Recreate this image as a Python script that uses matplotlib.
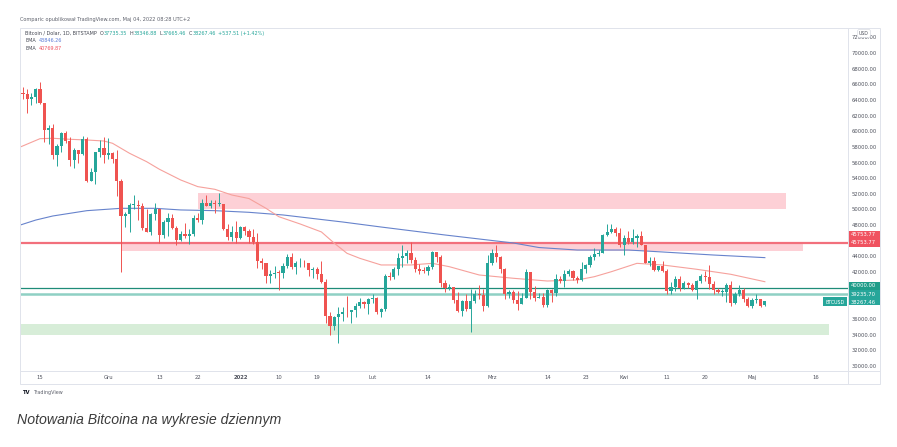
import numpy as np
import pandas as pd
import matplotlib
matplotlib.use("Agg")
import matplotlib.pyplot as plt
import matplotlib.dates as mdates
from matplotlib.patches import Rectangle
from matplotlib.transforms import blended_transform_factory

# BTC/USD daily candles (Bitstamp), 2021-11-10 .. 2022-05-04
first_day = "2021-11-10"
opens = [
    66950, 64900, 64800, 64150, 64350, 65450, 63600, 60100, 60350, 56900, 58100,
    59750, 58700, 56300, 57550, 57150, 58950, 53700, 54750, 57300, 57800,
    57000, 57200, 56500, 53600, 49200, 49400, 50550, 50600, 50500, 47600, 47150,
    49400, 50100, 46700, 48400, 48900, 47650, 46150, 46850, 46650, 46900, 48950,
    48600, 50800, 50400, 50800, 50700, 50700, 47550, 46450, 47100,
    46300, 47700, 47300, 46450, 45850, 43450, 43100, 41550, 41700, 41900, 41850,
    42750, 43950, 42600, 43100, 43150, 43100, 42250, 42400, 41700, 40700, 36450,
    35050, 36300, 36650, 36950, 36850, 37150, 37700, 38150, 37900,
    38500, 38700, 36900, 37300, 41550, 41400, 42400, 43850, 44100, 44400, 43550,
    42400, 42200, 42100, 42600, 44600, 43900, 40550, 40000, 40100, 38400, 37050,
    38250, 37300, 38350, 39200, 39100, 37700,
    43200, 44400, 43950, 42450, 39150, 39400, 38400, 37950, 38750, 41950, 39400,
    38750, 38800, 37800, 39650, 39300, 41100, 40900, 41750, 42200, 41250, 41050,
    42350, 42900, 43950, 44300, 44500, 46800, 47100, 47450, 47050,
    45500, 46300, 45800, 46400, 46600, 45500, 43200, 43450, 42300, 42750, 42150,
    39550, 40100, 41150, 39950, 40550, 40400, 39700, 40800, 41500, 41350, 40500,
    39700, 39450, 39450, 40400, 38100, 39250, 39750, 38600,
    37650, 38450, 38500, 37735.35,
]
highs = [
    69000, 65600, 65450, 64900, 65500, 66300, 63600, 60800, 60950, 58350, 59850,
    60000, 59300, 57850, 57600, 59400, 59200, 55300, 57400, 58850, 59200,
    59100, 57400, 57600, 53900, 49700, 50800, 51900, 51200, 50800, 50000, 49500,
    50800, 50250, 48700, 49500, 49450, 47900, 47300, 48300, 47500, 49300, 49550,
    51350, 51800, 51150, 51250, 52050, 50700, 48100, 47900, 48500,
    47900, 47950, 47550, 47500, 47050, 43750, 43150, 42300, 42800, 42250, 43100,
    44300, 44450, 43450, 43800, 43500, 43200, 42650, 42600, 43450, 41100, 36850,
    36450, 37550, 37500, 38950, 37200, 38000, 38700, 38350, 38750,
    39250, 38850, 37400, 41750, 41950, 42600, 44450, 45400, 44800, 45800, 43950,
    43000, 42700, 42900, 44750, 44600, 44200, 40950, 40500, 40150, 39450, 38450,
    39250, 39800, 39700, 40300, 39850, 44200,
    44950, 45450, 44100, 42500, 39650, 39650, 39550, 39350, 42400, 42000, 40250,
    39350, 39300, 39900, 39850, 41700, 41450, 42300, 42350, 42250, 41500, 43350,
    43000, 44200, 45100, 44800, 46900, 48200, 48100, 47700, 47600,
    46700, 47200, 47450, 46900, 47200, 45500, 43900, 43950, 42800, 43400, 42400,
    40700, 41550, 41500, 40850, 40700, 40600, 41000, 41750, 42200, 42950, 40800,
    39950, 39850, 40600, 40800, 39450, 40350, 39950, 38800,
    38650, 39150, 38600, 38346.88,
]
lows = [
    62800, 64100, 62300, 63400, 63600, 63500, 58600, 58400, 56500, 55600, 57400,
    58500, 55600, 55300, 55900, 57000, 53550, 53650, 53300, 56750, 56000,
    56500, 55900, 51700, 42000, 47800, 47100, 50100, 48600, 47350, 47100, 46800,
    48700, 45700, 46300, 46600, 47550, 45500, 45950, 46400, 45600, 46650, 48450,
    48100, 50500, 50200, 49500, 50450, 47350, 46150, 46000, 45700,
    46250, 46700, 45700, 45550, 42500, 42450, 40650, 40550, 41250, 39650, 41300,
    42500, 42350, 41750, 42650, 42650, 41550, 41300, 41100, 40600, 35500, 34000,
    34650, 33000, 35700, 36250, 35500, 36200, 37350, 37350, 36650,
    38050, 36600, 36250, 37000, 40950, 41100, 41650, 42700, 43150, 43200, 42000,
    41800, 41900, 41600, 42450, 43350, 40100, 39500, 39700, 38050, 36850, 36400,
    37050, 34350, 38000, 38600, 37050, 37500,
    42850, 43350, 41850, 38600, 38650, 38100, 37150, 37900, 38650, 38550, 38250,
    38650, 37600, 37600, 38150, 38900, 40550, 40150, 41500, 40950, 40550, 40900,
    41850, 42600, 43600, 44050, 44400, 46650, 46950, 46600, 45200,
    44200, 45650, 45550, 45150, 45400, 43150, 42750, 42150, 42150, 42000, 39250,
    39250, 39550, 39600, 39800, 40000, 39550, 38550, 40600, 40850, 39800, 39200,
    39300, 38950, 38200, 37700, 37900, 38900, 38200, 37600,
    37400, 38050, 37500, 37665.46,
]
closes = [
    64900, 64800, 64150, 64350, 65450, 63600, 60100, 60350, 56900, 58100, 59750,
    58700, 56300, 57550, 57150, 58950, 53700, 54750, 57300, 57800, 57000,
    57200, 56500, 53600, 49200, 49400, 50550, 50600, 50500, 47600, 47150, 49400,
    50100, 46700, 48400, 48900, 47650, 46150, 46850, 46650, 46900, 48950, 48600,
    50800, 50400, 50800, 50700, 50700, 47550, 46450, 47100, 46300,
    47700, 47300, 46450, 45850, 43450, 43100, 41550, 41700, 41900, 41850, 42750,
    43950, 42600, 43100, 43150, 43100, 42250, 42400, 41700, 40700, 36450, 35050,
    36300, 36650, 36950, 36850, 37150, 37700, 38150, 37900, 38500,
    38700, 36900, 37300, 41550, 41400, 42400, 43850, 44100, 44400, 43550, 42400,
    42200, 42100, 42600, 44600, 43900, 40550, 40000, 40100, 38400, 37050, 38250,
    37300, 38350, 39200, 39100, 37700, 43200,
    44400, 43950, 42450, 39150, 39400, 38400, 37950, 38750, 41950, 39400, 38750,
    38800, 37800, 39650, 39300, 41100, 40900, 41750, 42200, 41250, 41050, 42350,
    42900, 43950, 44300, 44500, 46800, 47100, 47450, 47050, 45500,
    46300, 45800, 46400, 46600, 45500, 43200, 43450, 42300, 42750, 42150, 39550,
    40100, 41150, 39950, 40550, 40400, 39700, 40800, 41500, 41350, 40500, 39700,
    39450, 39450, 40400, 38100, 39250, 39750, 38600, 37650,
    38450, 38500, 37730, 38267.46,
]

# EMA lines
ema_slow_dates = ["2021-11-10", "2021-11-14", "2021-11-18", "2021-11-26", "2021-12-04",
                  "2021-12-12", "2021-12-18", "2021-12-26", "2022-01-03", "2022-01-11",
                  "2022-01-20", "2022-01-25", "2022-02-03", "2022-02-18", "2022-03-06",
                  "2022-03-12", "2022-03-21", "2022-04-02", "2022-04-10", "2022-04-22",
                  "2022-05-04"]
ema_slow = [47950, 48650, 49170, 49850, 50150, 50150, 49940, 49850, 49640, 49300,
            48720, 48400, 47760, 46740, 45720, 45140, 44820, 44820, 44570, 44180,
            43846.26]
ema_fast_dates = ["2021-11-10", "2021-11-15", "2021-11-18", "2021-11-22", "2021-11-26",
                  "2021-11-30", "2021-12-02", "2021-12-06", "2021-12-10", "2021-12-13",
                  "2021-12-18", "2021-12-22", "2021-12-26", "2021-12-30", "2022-01-03",
                  "2022-01-07", "2022-01-10", "2022-01-15", "2022-01-20", "2022-01-23",
                  "2022-01-26", "2022-01-29", "2022-02-03", "2022-02-10", "2022-02-15",
                  "2022-02-19", "2022-02-26", "2022-03-06", "2022-03-14", "2022-03-21",
                  "2022-03-25", "2022-03-29", "2022-04-04", "2022-04-10", "2022-04-18",
                  "2022-04-26", "2022-05-04"]
ema_fast = [57900, 59050, 59100, 58970, 58880, 58750, 58460, 57180, 56110, 55140,
            53770, 52920, 52580, 51850, 51400, 50150, 49080, 48150, 47130, 45700,
            44400, 43760, 42910, 42910, 43120, 42690, 41630, 41210, 40860, 40990,
            41410, 42050, 43120, 42910, 42360, 41720, 40769.87]

# drawn zones
zone_start = ["2021-12-22", "2021-12-04", "2021-11-01"]
zone_end = ["2022-05-09", "2022-05-13", "2022-05-19"]
zone_low = [50000, 44670, 34000]
zone_high = [52130, 45820, 35400]
zone_color = ["#fdd0d6", "#fdd0d6", "#d7edd8"]

resistance = 45753.77
round_level = 40000.00
support = 39235.70
last_price = 38267.46

price_ticks = list(range(30000, 72001, 2000))
time_tick_dates = ["2021-11-15", "2021-12-01", "2021-12-13", "2021-12-22", "2022-01-01",
                   "2022-01-10", "2022-01-19", "2022-02-01", "2022-02-14", "2022-03-01",
                   "2022-03-14", "2022-03-23", "2022-04-01", "2022-04-11", "2022-04-20",
                   "2022-05-01", "2022-05-16"]
time_tick_labels = ["15", "Gru", "13", "22", "2022", "10", "19", "Lut", "14", "Mrz",
                    "14", "23", "Kwi", "11", "20", "Maj", "16"]

UP = "#26a69a"
DOWN = "#ef5350"
TXT = "#50535e"
BORDER = "#e0e3eb"

W, H = 897, 447
fig = plt.figure(figsize=(W / 100, H / 100), dpi=100)
fig.patch.set_facecolor("white")


def fx(px):
    return px / W


def fy(py):
    return 1 - py / H


ax = fig.add_axes([fx(21), fy(371), fx(848) - fx(21), fy(27) - fy(371)])
for s in ax.spines.values():
    s.set_visible(False)

ymin, ymax = 29360, 73320
upp = (ymax - ymin) / (371 - 27)  # usd per pixel
x0 = mdates.date2num(pd.Timestamp("2021-11-15"))

# zones
for s, e, lo, hi, col in zip(zone_start, zone_end, zone_low, zone_high, zone_color):
    xs = mdates.date2num(pd.Timestamp(s))
    xe = mdates.date2num(pd.Timestamp(e))
    ax.add_patch(Rectangle((xs, lo), xe - xs, hi - lo, fc=col, ec="none", zorder=1))

# horizontal levels
ax.axhline(resistance, color="#f2707c", lw=1.6, zorder=2)
ax.axhline(round_level, color="#1e8c78", lw=0.9, zorder=2)
ax.axhline(support, color="#8fd0c4", lw=1.8, zorder=2)

# ema lines
ax.plot(mdates.date2num(pd.to_datetime(ema_slow_dates)), ema_slow, color="#6783cc", lw=0.8, zorder=2.5)
ax.plot(mdates.date2num(pd.to_datetime(ema_fast_dates)), ema_fast, color="#f6a19c", lw=0.8, zorder=2.5)

# candles
dates = pd.date_range(first_day, periods=len(closes), freq="D")
x = mdates.date2num(dates)
o = np.array(opens, float)
h = np.array(highs, float)
l = np.array(lows, float)
c = np.array(closes, float)
cols = np.where(c >= o, UP, DOWN)
ax.vlines(x, l, h, colors=cols, lw=0.7, zorder=3)
ax.bar(x, np.maximum(np.abs(c - o), 110), bottom=np.minimum(o, c), width=0.74,
       color=cols, lw=0, zorder=4)

ax.set_xlim(x0 - 4.46, x0 + 189.5)
ax.set_ylim(ymin, ymax)

# axes ticks (labels under the price tags are hidden, like on the scale)
tag_prices = [resistance, round_level, support, last_price]
ax.yaxis.tick_right()
ax.set_yticks(price_ticks)
ax.set_yticklabels(["" if min(abs(v - p) for p in tag_prices) < 1000 else "%.2f" % v
                    for v in price_ticks])
ax.tick_params(axis="y", length=0, pad=2.9, labelsize=3.8, labelcolor=TXT)
ax.set_xticks(mdates.date2num(pd.to_datetime(time_tick_dates)))
ax.set_xticklabels(time_tick_labels)
ax.tick_params(axis="x", length=0, pad=2.8, labelsize=3.8, labelcolor=TXT)
for t in ax.get_xticklabels():
    if t.get_text() == "2022":
        t.set_fontweight("bold")

# price tags on the scale
tr = blended_transform_factory(fig.transFigure, ax.transData)


def tag(price, text, fc, shift=0.0, top=4.2, bot=4.2, xa=848, xb=880, size=3.8):
    yc = price + shift * upp
    ax.add_patch(Rectangle((fx(xa), price - bot * upp), fx(xb) - fx(xa), (top + bot) * upp,
                           transform=tr, fc=fc, ec="none", clip_on=False, zorder=10))
    ax.text(fx(xa + 3), yc, text, transform=tr, fontsize=size, color="white",
            va="center", ha="left", clip_on=False, zorder=11)


tag(resistance, "%.2f" % resistance, "#f0525f", shift=0, top=11.3, bot=4.7)
ax.text(fx(851), resistance + 8.5 * upp, "%.2f" % resistance, transform=tr, fontsize=3.8,
        color="white", va="center", ha="left", clip_on=False, zorder=11)
tag(round_level, "%.2f" % round_level, "#1f9d89", shift=2, top=5.6, bot=1.9)
tag(support, "%.2f" % support, "#26a69a", shift=-0.4, top=4.1, bot=3.9)
tag(last_price, "%.2f" % last_price, "#26a69a", shift=-0.8, top=3.7, bot=3.8)
tag(last_price, "BTCUSD", "#26a69a", shift=-0.8, top=4.2, bot=4.8, xa=822.7, xb=846.7, size=3.4)

# frame of the tradingview widget
fig.add_artist(Rectangle((fx(20), fy(384)), fx(880) - fx(20), fy(28) - fy(384),
                         transform=fig.transFigure, fill=False, ec=BORDER, lw=0.7))
fig.add_artist(plt.Line2D([fx(848), fx(848)], [fy(28), fy(384)], color=BORDER, lw=0.7))
fig.add_artist(plt.Line2D([fx(20), fx(880)], [fy(371), fy(371)], color=BORDER, lw=0.7))
fig.text(fx(864), fy(33.5), "USD", fontsize=3.3, color=TXT, ha="center", va="center",
         bbox=dict(boxstyle="round,pad=0.3", fc="white", ec="#d1d4dc", lw=0.4))

# header + legend
fig.text(fx(20), fy(20), "Comparic opublikował TradingView.com, Maj 04, 2022 08:28 UTC+2",
         fontsize=3.6, color="#5d606b", ha="left", va="center")

renderer = fig.canvas.get_renderer()


def pieces(px, py, parts, size=3.55):
    for s, col, gap in parts:
        t = fig.text(fx(px), fy(py), s, color=col, fontsize=size, ha="left", va="center")
        px += t.get_window_extent(renderer=renderer).width + gap


DARK = "#434651"
pieces(25, 33.3, [("Bitcoin / Dolar, 1D, BITSTAMP", DARK, 3),
                  ("O", DARK, 0.3), ("37735.35", UP, 2.5),
                  ("H", DARK, 0.3), ("38346.88", UP, 2.5),
                  ("L", DARK, 0.3), ("37665.46", UP, 2.5),
                  ("C", DARK, 0.3), ("38267.46", UP, 2.5),
                  ("+537.51 (+1.42%)", UP, 0)])
pieces(25, 40.8, [("EMA", DARK, 2.5), ("43846.26", "#5b7bd5", 0)])
pieces(25, 48.6, [("EMA", DARK, 2.5), ("40769.87", "#f0525f", 0)])

# tradingview mark and caption
fig.text(fx(22), fy(392.5), "TV", fontsize=3.8, fontweight="bold", color="#131722",
         ha="left", va="center")
fig.text(fx(33), fy(392.5), "TradingView", fontsize=3.5, color="#5d606b", ha="left", va="center")
fig.text(fx(17), fy(420), "Notowania Bitcoina na wykresie dziennym",
         fontsize=10.2, style="italic", family=["Liberation Sans", "DejaVu Sans"],
         color="#3c3c3c", ha="left", va="center")

fig.savefig("out.png", dpi=100, facecolor="white")
